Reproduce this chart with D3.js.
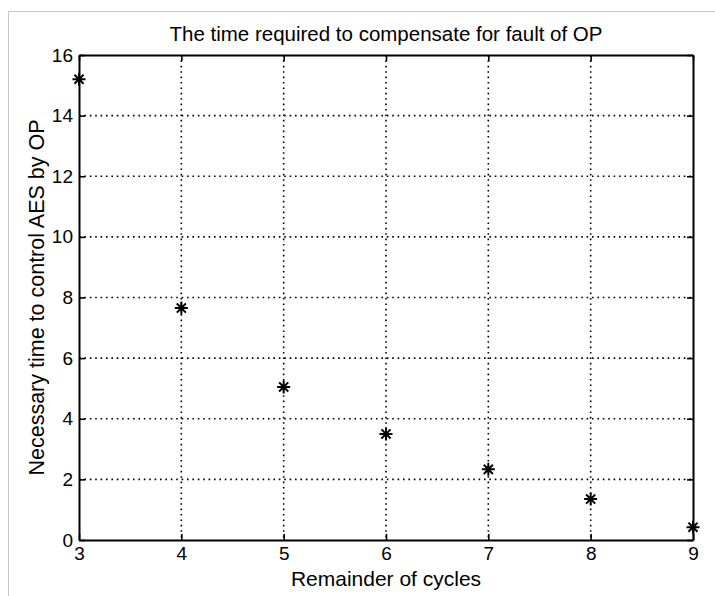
<!DOCTYPE html>
<html>
<head>
<meta charset="utf-8">
<script src="https://cdn.jsdelivr.net/npm/d3@7"></script>
<style>
  body { margin: 0; background: #fff; }
  svg text { font-family: "Liberation Sans", Arial, sans-serif; fill: #000; }
</style>
</head>
<body>
<div id="chart"></div>
<script>
// remainder of cycles vs necessary time
const cycles = [3, 4, 5, 6, 7, 8, 9];
const times = [15.2, 7.65, 5.05, 3.5, 2.33, 1.35, 0.42];
const xTicks = [3, 4, 5, 6, 7, 8, 9];
const yTicks = [0, 2, 4, 6, 8, 10, 12, 14, 16];

const W = 715, H = 596;
const margin = { top: 55, right: 22, bottom: 56, left: 79 };
const width = W - margin.left - margin.right;
const height = H - margin.top - margin.bottom;

const svg = d3.select('#chart').append('svg')
  .attr('width', W)
  .attr('height', H);

// light frame of the figure
svg.append('path')
  .attr('d', `M8.5,${H}V11.5H${W}`)
  .attr('fill', 'none')
  .attr('stroke', '#c8c8c8')
  .attr('stroke-width', 1);

const g = svg.append('g')
  .attr('transform', 'translate(' + margin.left + ',' + margin.top + ')');

const x = d3.scaleLinear().domain([3, 9]).range([0, width]);
const y = d3.scaleLinear().domain([0, 16]).range([height, 0]);

// dotted grid
g.append('g').selectAll('line')
  .data(xTicks.slice(1, -1))
  .enter().append('line')
  .attr('x1', d => x(d)).attr('x2', d => x(d))
  .attr('y1', 0).attr('y2', height);
g.append('g').selectAll('line')
  .data(yTicks.slice(1, -1))
  .enter().append('line')
  .attr('y1', d => y(d)).attr('y2', d => y(d))
  .attr('x1', 0).attr('x2', width);
g.selectAll('g line')
  .style('stroke', '#000')
  .style('stroke-width', 1.6)
  .style('stroke-dasharray', '1.6,3.8');

// axes, inward ticks on all four sides
const fontSize = '19px';
const gX = g.append('g')
  .attr('transform', 'translate(0,' + height + ')')
  .call(d3.axisBottom(x).tickValues(xTicks).tickSizeInner(-6).tickSizeOuter(0).tickPadding(7).tickFormat(d3.format('d')));
const gY = g.append('g')
  .call(d3.axisLeft(y).tickValues(yTicks).tickSizeInner(-6).tickSizeOuter(0).tickPadding(6).tickFormat(d3.format('d')));
const gX2 = g.append('g')
  .call(d3.axisTop(x).tickValues(xTicks).tickSizeInner(-6).tickSizeOuter(0).tickFormat(''));
const gY2 = g.append('g')
  .attr('transform', 'translate(' + width + ',0)')
  .call(d3.axisRight(y).tickValues(yTicks).tickSizeInner(-6).tickSizeOuter(0).tickFormat(''));

[gX, gY, gX2, gY2].forEach(a => {
  a.selectAll('.tick line').style('stroke', '#000').style('stroke-width', 1.6);
  a.select('.domain').style('stroke', '#000').style('stroke-width', 2);
  a.selectAll('text').style('font-size', fontSize).style('font-family', '"Liberation Sans", Arial, sans-serif').attr('fill', '#000');
});

// asterisk markers
const r = 6.5;
const star = `M${-r},0H${r}M0,${-r}V${r}M${-r * 0.7},${-r * 0.7}L${r * 0.7},${r * 0.7}M${-r * 0.7},${r * 0.7}L${r * 0.7},${-r * 0.7}`;
g.selectAll('.pt')
  .data(cycles.map((c, i) => [c, times[i]]))
  .enter().append('path')
  .attr('class', 'pt')
  .attr('transform', d => 'translate(' + x(d[0]) + ',' + y(d[1]) + ')')
  .attr('d', star)
  .attr('fill', 'none')
  .attr('stroke', '#000')
  .attr('stroke-width', 2);

// title and axis labels
svg.append('text')
  .attr('x', margin.left + width / 2)
  .attr('y', 41)
  .attr('text-anchor', 'middle')
  .style('font-size', '20.5px')
  .text('The time required to compensate for fault of OP');

svg.append('text')
  .attr('x', margin.left + width / 2)
  .attr('y', 586)
  .attr('text-anchor', 'middle')
  .style('font-size', '21px')
  .text('Remainder of cycles');

svg.append('text')
  .attr('transform', 'translate(44,' + (margin.top + height / 2) + ') rotate(-90)')
  .attr('text-anchor', 'middle')
  .style('font-size', '21.5px')
  .text('Necessary time to control AES by OP');
</script>
</body>
</html>
